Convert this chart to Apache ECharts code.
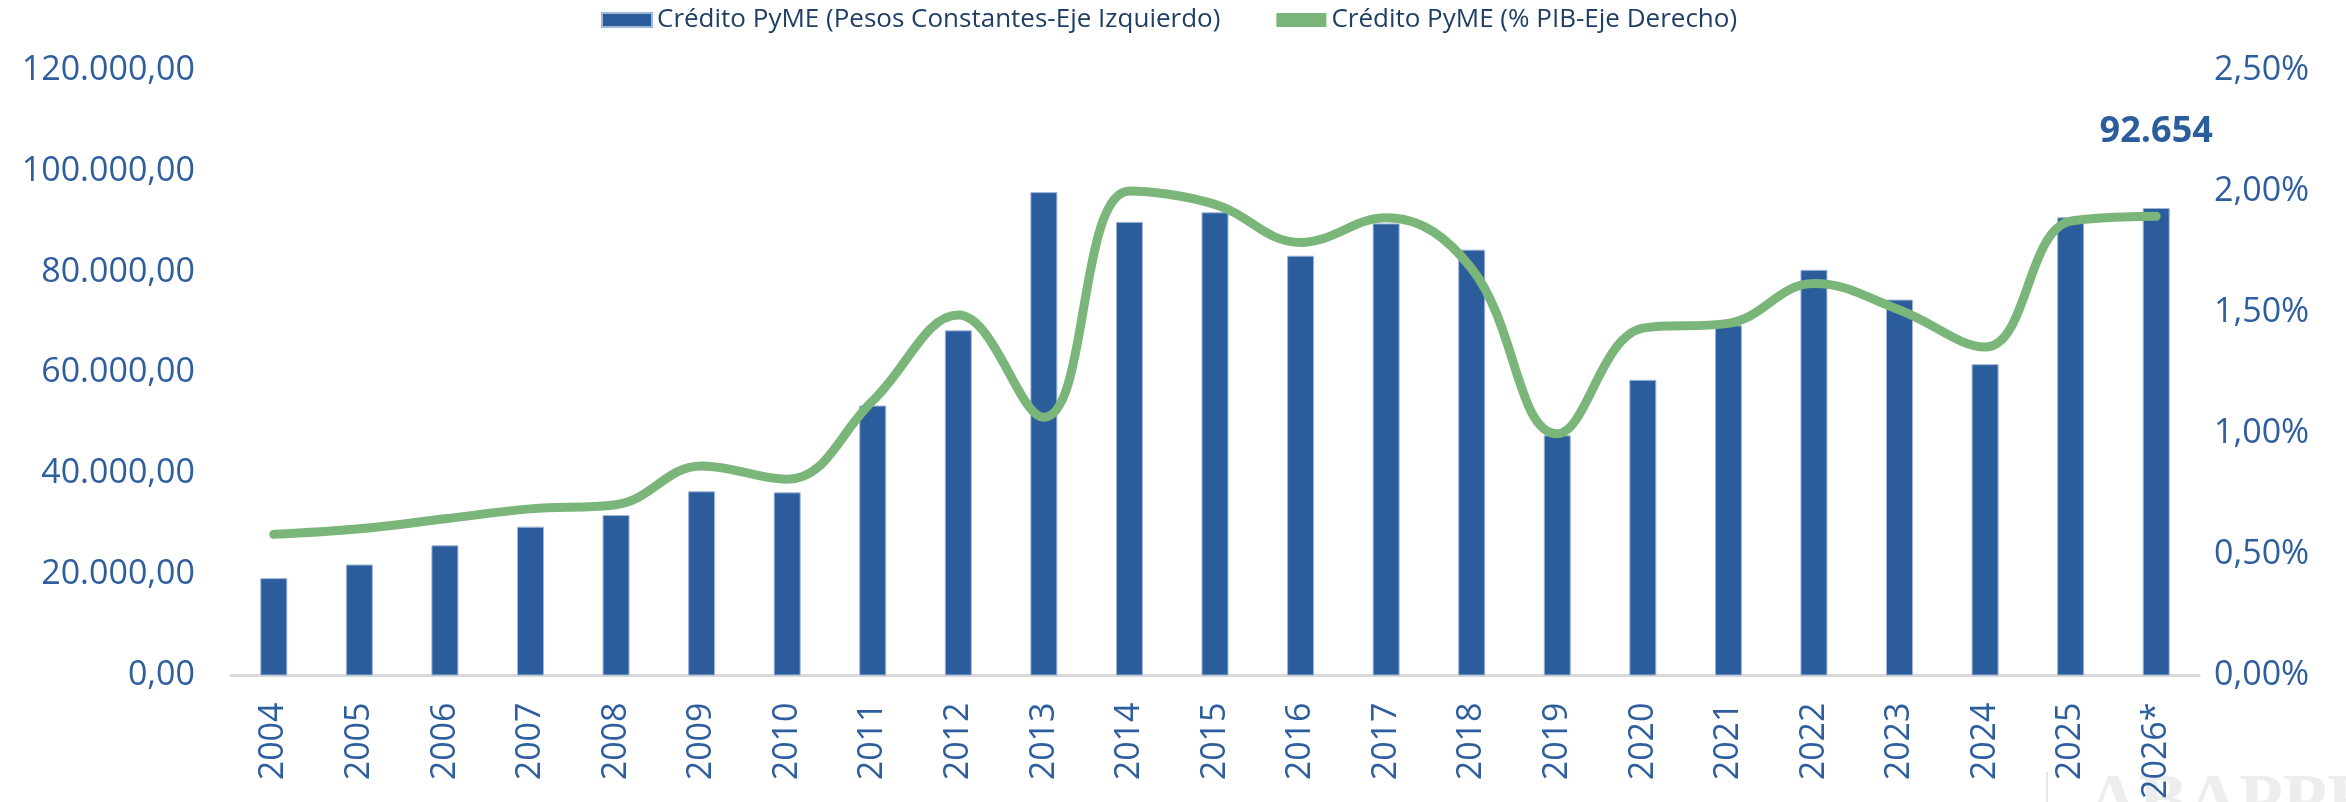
<!DOCTYPE html>
<html>
<head>
<meta charset="utf-8">
<script src="https://cdn.jsdelivr.net/npm/echarts@6/dist/echarts.min.js"></script>
<style>
html,body{margin:0;padding:0;background:#fff;}
#chart{width:2346px;height:802px;}
</style>
</head>
<body>
<div id="chart"></div>
<script>
const categories = ['2004','2005','2006','2007','2008','2009','2010','2011','2012','2013','2014','2015','2016','2017','2018','2019','2020','2021','2022','2023','2024','2025','2026*'];
const creditoPesos = [19300,22000,25800,29500,31800,36500,36300,53500,68400,95800,89900,91800,83200,89600,84400,47600,58600,69400,80400,74500,61700,90800,92654];
const creditoPIB = [0.583,0.606,0.647,0.688,0.705,0.865,0.81,1.134,1.488,1.066,2.0,1.945,1.788,1.89,1.68,0.998,1.434,1.454,1.618,1.509,1.356,1.876,1.896];
const leftTicks = {min:0, max:120000, interval:20000};
const rightTicks = {min:0, max:2.5, interval:0.5};
const seriesNames = ['Crédito PyME (Pesos Constantes-Eje Izquierdo)','Crédito PyME (% PIB-Eje Derecho)'];

const BLUE = '#2B5C9B';
const GREEN = '#7AB57A';
const AXISTXT = '#2E5E9E';
const FONT = "'Open Sans', 'Noto Sans', sans-serif";

function thousands(v){ return String(Math.round(v)).replace(/\B(?=(\d{3})+(?!\d))/g,'.'); }

const lastIdx = creditoPesos.length - 1;
const barData = creditoPesos.map((v,i)=> i===lastIdx ? {
  value:v,
  label:{show:true,position:'top',distance:58,formatter:p=>thousands(p.value),
    color:BLUE,fontSize:36,fontWeight:'bold',fontFamily:FONT}
} : v);

const chart = echarts.init(document.getElementById('chart'), null, {renderer:'canvas'});
chart.setOption({
  animation:false,
  backgroundColor:'#fff',
  grid:{left:231,right:147,top:70,bottom:121,containLabel:false},
  legend:{
    top:2,left:596,itemWidth:50,itemHeight:14,itemGap:56,
    icon:'rect',
    textStyle:{color:'#1F3F66',fontSize:26,fontFamily:"'Liberation Sans Narrow', 'Open Sans', sans-serif"},
    data:[{name:seriesNames[0],itemStyle:{color:BLUE}},{name:seriesNames[1],itemStyle:{color:GREEN}}]
  },
  xAxis:{
    type:'category',data:categories,
    axisLine:{show:true,lineStyle:{color:'#D9D9D9',width:3}},
    axisTick:{show:false},
    axisLabel:{rotate:90,margin:27,color:AXISTXT,fontSize:34,fontFamily:FONT,interval:0}
  },
  yAxis:[
    {type:'value',min:leftTicks.min,max:leftTicks.max,interval:leftTicks.interval,
     splitLine:{show:false},axisLine:{show:false},axisTick:{show:false},
     axisLabel:{margin:36,color:AXISTXT,fontSize:34,fontFamily:FONT,formatter:v=>thousands(v)+',00'}},
    {type:'value',min:rightTicks.min,max:rightTicks.max,interval:rightTicks.interval,
     splitLine:{show:false},axisLine:{show:false},axisTick:{show:false},
     axisLabel:{margin:15,color:AXISTXT,fontSize:34,fontFamily:FONT,formatter:v=>v.toFixed(2).replace('.',',')+'%'}}
  ],
  series:[
    {name:seriesNames[0],type:'bar',yAxisIndex:0,data:barData,barWidth:27,
     itemStyle:{color:BLUE,borderColor:'#9FB6DA',borderWidth:1}},
    {name:seriesNames[1],type:'line',yAxisIndex:1,data:creditoPIB,smooth:0.4,
     showSymbol:false,symbol:'none',
     lineStyle:{color:GREEN,width:9,cap:'round',join:'round'},itemStyle:{color:GREEN},z:5}
  ],
  graphic:[
    {type:'text',left:2087,top:768,z:-1,style:{text:'ABAPPRA',fill:'#EDEDED',fontSize:72,fontFamily:"'Liberation Serif', serif",fontWeight:'bold'}},
    {type:'rect',left:2046,top:772,z:-1,shape:{width:2,height:30},style:{fill:'#E6E6E6'}}
  ]
});
</script>
</body>
</html>
